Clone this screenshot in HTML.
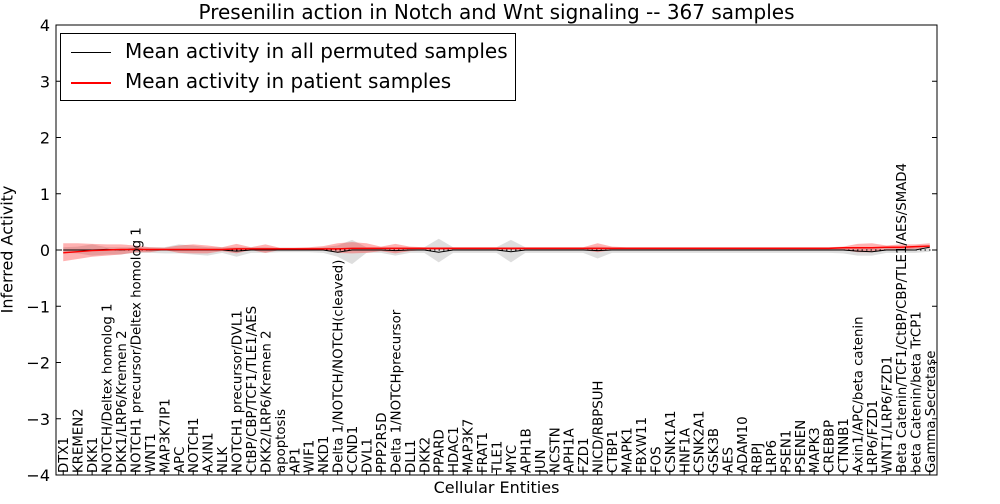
<!DOCTYPE html>
<html><head><meta charset="utf-8"><style>
body{margin:0;background:#fff;font-family:"DejaVu Sans",sans-serif}
</style></head><body>
<svg id="c" width="1000" height="500" xmlns="http://www.w3.org/2000/svg" font-family="DejaVu Sans, sans-serif"></svg>
<script>
const categories=["DTX1","KREMEN2","DKK1","NOTCH/Deltex homolog 1","DKK1/LRP6/Kremen 2","NOTCH1 precursor/Deltex homolog 1","WNT1","MAP3K7IP1","APC","NOTCH1","AXIN1","NLK","NOTCH1 precursor/DVL1","CtBP/CBP/TCF1/TLE1/AES","DKK2/LRP6/Kremen 2","apoptosis","AP1","WIF1","NKD1","Delta 1/NOTCH/NOTCH(cleaved)","CCND1","DVL1","PPP2R5D","Delta 1/NOTCHprecursor","DLL1","DKK2","PPARD","HDAC1","MAP3K7","FRAT1","TLE1","MYC","APH1B","JUN","NCSTN","APH1A","FZD1","NICD/RBPSUH","CTBP1","MAPK1","FBXW11","FOS","CSNK1A1","HNF1A","CSNK2A1","GSK3B","AES","ADAM10","RBPJ","LRP6","PSEN1","PSENEN","MAPK3","CREBBP","CTNNB1","Axin1/APC/beta catenin","LRP6/FZD1","WNT1/LRP6/FZD1","Beta Catenin/TCF1/CtBP/CBP/TLE1/AES/SMAD4","beta Catenin/beta TrCP1","Gamma Secretase"];
const patientMean=[-0.05,-0.03,-0.01,0,0.01,0.01,0.01,0.01,0.01,0.01,0.01,0.01,0.02,0.02,0.02,0.02,0.02,0.02,0.02,0.02,0.03,0.03,0.03,0.03,0.03,0.03,0.03,0.03,0.03,0.03,0.03,0.03,0.03,0.03,0.03,0.03,0.03,0.03,0.03,0.03,0.03,0.03,0.03,0.03,0.03,0.03,0.03,0.03,0.03,0.03,0.03,0.03,0.03,0.03,0.04,0.04,0.04,0.05,0.05,0.06,0.07];
const patientLow=[-0.2,-0.16,-0.12,-0.1,-0.08,-0.04,-0.04,0.0,-0.05,-0.06,-0.06,-0.02,-0.06,0.0,-0.05,0.0,0.0,0.0,0.0,-0.05,-0.06,-0.05,-0.02,-0.06,-0.02,0.0,0.0,0.0,0.0,0.0,0.0,0.0,0.0,0.0,0.0,0.0,0.0,-0.04,0.0,0.0,0.0,0.0,0.0,0.0,0.0,0.0,0.0,0.0,0.0,0.0,0.0,0.0,0.0,0.0,0.0,-0.04,-0.04,0.0,0.0,0.02,0.03];
const patientHigh=[0.12,0.12,0.11,0.1,0.1,0.08,0.05,0.04,0.08,0.1,0.08,0.05,0.11,0.05,0.1,0.04,0.04,0.05,0.07,0.12,0.14,0.12,0.06,0.11,0.06,0.05,0.05,0.05,0.05,0.05,0.05,0.05,0.05,0.05,0.05,0.05,0.05,0.12,0.06,0.05,0.05,0.05,0.05,0.05,0.05,0.05,0.05,0.05,0.05,0.05,0.05,0.05,0.05,0.05,0.06,0.11,0.12,0.08,0.1,0.1,0.12];
const permMean=[0,0,0,0.01,0,0.02,0,0,0,0,0,0,-0.02,0,0,0,0,0,0,-0.04,0,0,0,-0.01,0,0,-0.04,0,0,0,0,-0.03,0,0,0,0,0,-0.01,0,0,0,0,0,0,0,0,0,0,0,0,0,0,0,0,0,-0.02,-0.03,0,0,0,0.05];
const permLow=[-0.05,-0.06,-0.1,-0.08,-0.08,-0.05,-0.05,-0.06,-0.06,-0.08,-0.1,-0.05,-0.12,-0.05,-0.05,-0.04,-0.04,-0.04,-0.05,-0.12,-0.25,-0.05,-0.05,-0.1,-0.05,-0.05,-0.22,-0.05,-0.05,-0.05,-0.05,-0.22,-0.05,-0.05,-0.05,-0.05,-0.05,-0.15,-0.05,-0.05,-0.05,-0.05,-0.05,-0.05,-0.05,-0.05,-0.05,-0.05,-0.05,-0.05,-0.05,-0.05,-0.05,-0.05,-0.06,-0.1,-0.1,-0.05,-0.05,-0.05,-0.03];
const permHigh=[0.05,0.06,0.1,0.05,0.05,0.05,0.05,0.05,0.1,0.08,0.05,0.05,0.05,0.05,0.05,0.04,0.04,0.04,0.05,0.08,0.18,0.05,0.05,0.05,0.05,0.05,0.2,0.05,0.05,0.05,0.05,0.18,0.05,0.05,0.05,0.05,0.05,0.06,0.05,0.05,0.05,0.05,0.05,0.05,0.05,0.05,0.05,0.05,0.05,0.05,0.05,0.05,0.05,0.05,0.05,0.04,0.04,0.05,0.05,0.05,0.08];
const yTicks=[-4,-3,-2,-1,0,1,2,3,4];

const NS="http://www.w3.org/2000/svg",svg=document.getElementById('c');
const L=56,R=937,T=25,B=475,n=categories.length;
const x=i=>L+(R-L)/n*(i+0.5);
const y=v=>T+(4-v)/8*(B-T);
function mk(t,a,p){const e=document.createElementNS(NS,t);for(const k in a)e.setAttribute(k,a[k]);(p||svg).appendChild(e);return e;}
function band(lo,hi,fill,op,name){let d="M"+lo.map((v,i)=>x(i)+","+y(v)).join("L");for(let i=n-1;i>=0;i--)d+="L"+x(i)+","+y(hi[i]);const e=mk('path',{d:d+"Z",fill:fill,'fill-opacity':op});

}
function line(arr,col,w,name){const e=mk('path',{d:"M"+arr.map((v,i)=>x(i)+","+y(v)).join("L"),fill:"none",stroke:col,'stroke-width':w});

}
band(permLow,permHigh,"#a0a0a0",0.35,"permuted-band");
band(patientLow,patientHigh,"#ff0000",0.3,"patient-band");
const z=mk('line',{x1:L,x2:R,y1:y(0),y2:y(0),stroke:"#000",'stroke-dasharray':"1.5,3",'stroke-width':1});


line(permMean,"#000",1,"permuted-mean-line");
line(patientMean,"#f00",1.5,"patient-mean-line");
const fr=mk('rect',{x:L,y:T,width:R-L,height:B-T,fill:"none",stroke:"#000",'stroke-width':1});


yTicks.forEach(v=>{mk('line',{x1:L,x2:L+5,y1:y(v),y2:y(v),stroke:"#000"});mk('line',{x1:R-5,x2:R,y1:y(v),y2:y(v),stroke:"#000"});
const t=mk('text',{x:L-6,y:y(v)+6,'text-anchor':'end','font-size':16});t.textContent=(v<0?"\u2212"+(-v):v);

});
categories.forEach((c,i)=>{mk('line',{x1:x(i),x2:x(i),y1:B,y2:B-5,stroke:"#000"});
const t=mk('text',{x:0,y:0,'font-size':13.3,transform:`translate(${x(i)+5},${B-2}) rotate(-90)`});t.textContent=c;

});
</script>
<div style="position:absolute;left:0;top:0;width:1000px;height:500px;pointer-events:none">
<div style="position:absolute;left:56px;width:881px;top:0;text-align:center;font-size:20px">Presenilin action in Notch and Wnt signaling -- 367 samples</div>
<div style="position:absolute;left:56px;width:881px;top:478px;text-align:center;font-size:16px">Cellular Entities</div>
<div style="position:absolute;left:-58px;top:240px;width:130px;text-align:center;font-size:16px;transform:rotate(-90deg)">Inferred Activity</div>
<div style="position:absolute;left:60px;top:33px;width:454px;height:66px;border:1px solid #000;background:#fff;font-size:20px">
<div style="position:absolute;left:10px;top:5px;white-space:nowrap"><span style="display:inline-block;width:40px;height:1px;background:#000;vertical-align:middle;margin-right:14px"></span>Mean activity in all permuted samples</div>
<div style="position:absolute;left:10px;top:35px;white-space:nowrap"><span style="display:inline-block;width:40px;height:2px;background:#f00;vertical-align:middle;margin-right:14px"></span>Mean activity in patient samples</div>
</div></div>
</body></html>
